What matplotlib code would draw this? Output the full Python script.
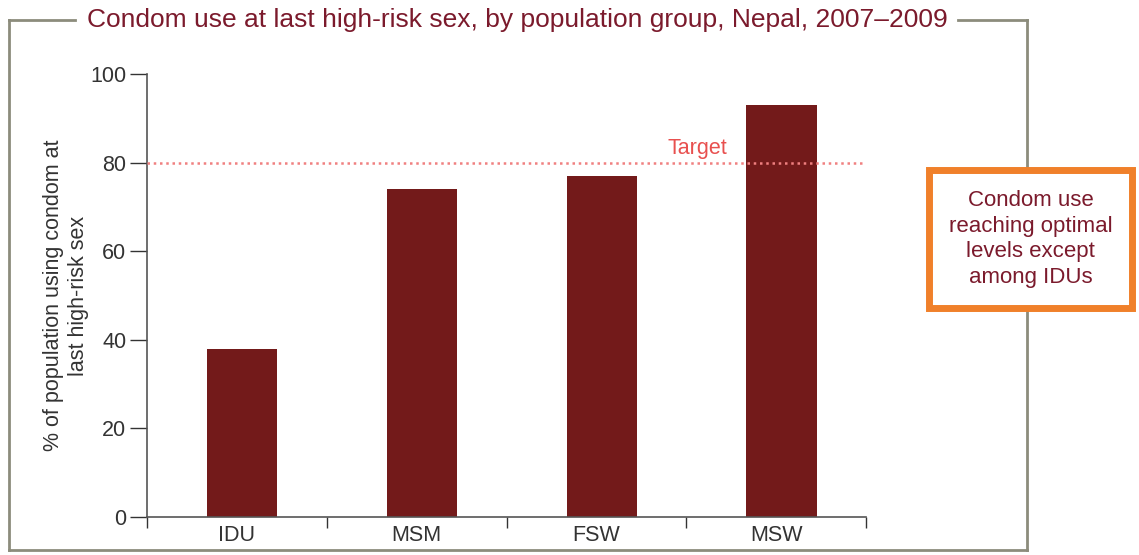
import matplotlib
matplotlib.use("Agg")
import matplotlib.pyplot as plt
from matplotlib.patches import Rectangle
from matplotlib.lines import Line2D
import numpy as np

categories = ["IDU", "MSM", "FSW", "MSW"]
values = [38, 74, 77, 93]
target = 80
yticks = [0, 20, 40, 60, 80, 100]
title = "Condom use at last high-risk sex, by population group, Nepal, 2007\u20132009"
ylabel = "% of population using condom at\nlast high-risk sex"
callout = "Condom use\nreaching optimal\nlevels except\namong IDUs"

plt.rcParams['font.family'] = ['Liberation Sans', 'DejaVu Sans']

W, H = 1139, 555
fig = plt.figure(figsize=(W / 100, H / 100), dpi=100)
fig.patch.set_facecolor("white")

# outer frame
frame_col = "#8c8c7c"
def fx(px): return px / W
def fy(py): return 1 - py / H
lw = 2.0
fig.add_artist(Line2D([fx(9), fx(9)], [fy(20), fy(550)], color=frame_col, lw=lw))
fig.add_artist(Line2D([fx(9), fx(1027)], [fy(550), fy(550)], color=frame_col, lw=lw))
fig.add_artist(Line2D([fx(1027), fx(1027)], [fy(20), fy(550)], color=frame_col, lw=lw))
fig.add_artist(Line2D([fx(9), fx(75)], [fy(20), fy(20)], color=frame_col, lw=lw))
fig.add_artist(Line2D([fx(958), fx(1027)], [fy(20), fy(20)], color=frame_col, lw=lw))

fig.text(fx(517), fy(20), title, color="#7b1a2c", fontsize=19,
         ha="center", va="center")

ax = fig.add_axes([fx(147), fy(517), fx(866) - fx(147), fy(74) - fy(517)])
x = np.arange(len(categories))
ax.bar(x + 0.03, values, width=0.39, color="#731a1a", zorder=2)
ax.set_xlim(-0.5, len(categories) - 0.5)
ax.set_ylim(0, 100)
ax.set_yticks(yticks)
ax.set_xticks(x)
ax.set_xticklabels(categories)
ax.set_xticks(np.arange(-0.5, len(categories)), minor=True)
ax.tick_params(axis="x", which="major", length=0, pad=6, labelsize=15.5, labelcolor="#333333")
ax.tick_params(axis="y", length=12, width=1, color="#333333", labelsize=15.5, labelcolor="#333333", pad=3)
for s in ["top", "right"]:
    ax.spines[s].set_visible(False)
ax.spines["left"].set_color("#555555")
ax.spines["bottom"].set_color("#555555")
ax.spines["left"].set_linewidth(1.2)
ax.spines["bottom"].set_linewidth(1.2)
ax.tick_params(axis="x", which="minor", direction="out", length=8, width=1, color="#333333")

ax.axhline(target, color="#f08080", lw=1.8, ls=(0, (1, 1.5)), zorder=3)
ax.text(2.56, target + 0.9, "Target", color="#e8504f", fontsize=15.5, ha="center", va="bottom")

ax.set_ylabel(ylabel, fontsize=15.5, color="#333333", labelpad=1, linespacing=1.25)

# callout box
bx0, by0, bx1, by1 = 929, 170, 1132, 308
fig.add_artist(Rectangle((fx(bx0), fy(by1)), fx(bx1) - fx(bx0), fy(by0) - fy(by1),
                         facecolor="white", edgecolor="#f0802a", lw=5, zorder=5))
fig.text(fx((bx0 + bx1) / 2), fy((by0 + by1) / 2), callout, color="#7b1a2c",
         fontsize=16, ha="center", va="center", linespacing=1.3, zorder=6)

fig.savefig("out.png", dpi=100)
